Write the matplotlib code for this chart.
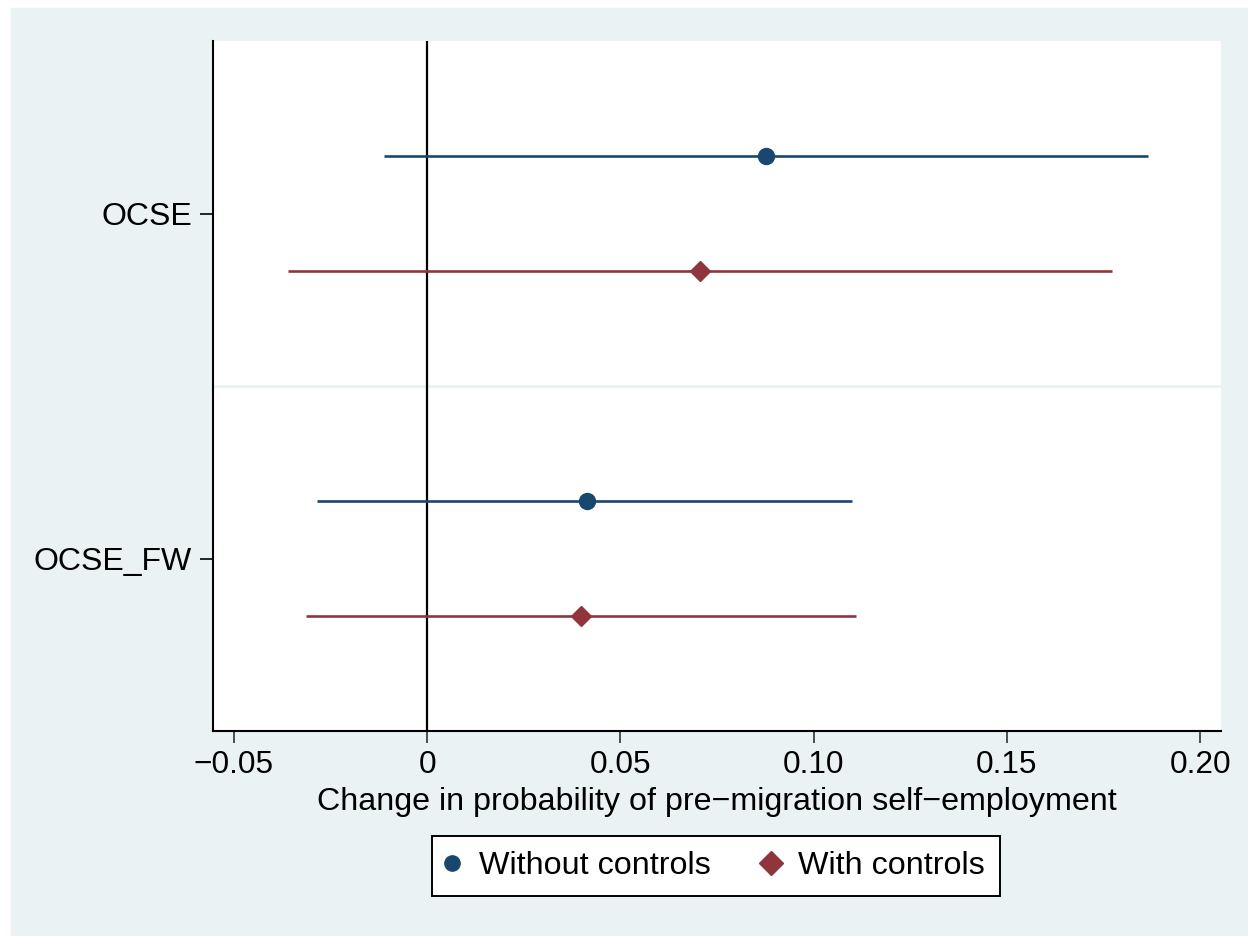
import matplotlib
matplotlib.use("Agg")
import matplotlib.pyplot as plt
from matplotlib.patches import Rectangle
from matplotlib.lines import Line2D

# coefficient estimates and 95% intervals
categories = ["OCSE", "OCSE_FW"]
series_names = ["Without controls", "With controls"]
coef = {
    "Without controls": [0.0876, 0.0413],
    "With controls": [0.0707, 0.0398],
}
ci_low = {
    "Without controls": [-0.0112, -0.0284],
    "With controls": [-0.0361, -0.0313],
}
ci_high = {
    "Without controls": [0.1865, 0.1099],
    "With controls": [0.1772, 0.1109],
}
xticks = [-0.05, 0, 0.05, 0.10, 0.15, 0.20]
xtick_labels = ["\u22120.05", "0", "0.05", "0.10", "0.15", "0.20"]
xlabel = "Change in probability of pre\u2212migration self\u2212employment"

BG = "#EAF2F3"
colors = {"Without controls": "#1A476F", "With controls": "#90353B"}
markers = {"Without controls": "o", "With controls": "D"}
msizes = {"Without controls": 11.5, "With controls": 10}
offsets = {"Without controls": -0.167, "With controls": 0.167}

plt.rcParams["font.family"] = ["Liberation Sans", "DejaVu Sans"]

fig = plt.figure(figsize=(12.48, 9.36), dpi=100, facecolor="white")
fig.patches.append(Rectangle((11 / 1248, 0), 1, 1 - 8 / 936,
                             transform=fig.transFigure, color=BG, zorder=-10))

ax = fig.add_axes([213 / 1248, 1 - 731 / 936, (1221 - 213) / 1248, (731 - 41) / 936])
ax.set_facecolor("white")

ypos = list(range(1, len(categories) + 1))

# light separator between groups
for i in range(len(categories) - 1):
    ax.axhline(ypos[i] + 0.5, color=BG, lw=2, zorder=1)

ax.axvline(0, color="black", lw=1.6, zorder=2)

for name in series_names:
    ys = [y + offsets[name] for y in ypos]
    ax.hlines(ys, ci_low[name], ci_high[name], color=colors[name], lw=1.9, zorder=3)
    ax.plot(coef[name], ys, linestyle="none", marker=markers[name],
            ms=msizes[name], color=colors[name], mec=colors[name], zorder=4)

ax.set_ylim(2.5, 0.5)
ax.set_xlim(-0.0554, 0.2054)
ax.set_yticks(ypos)
ax.set_yticklabels(categories)
ax.set_xticks(xticks)
ax.set_xticklabels(xtick_labels)
ax.set_xlabel(xlabel, fontsize=23.2, labelpad=5)

for side in ["top", "right"]:
    ax.spines[side].set_visible(False)
for side in ["left", "bottom"]:
    ax.spines[side].set_linewidth(1.5)
    ax.spines[side].set_color("black")

ax.tick_params(axis="y", length=9.5, width=1.2, pad=5.5, labelsize=23, colors="black")
ax.tick_params(axis="x", length=8.8, width=1.2, pad=5, labelsize=22.8, colors="black")
ax.tick_params(axis="x", color="#333333")

leg_sizes = {"Without controls": 11, "With controls": 12}
handles = [Line2D([], [], linestyle="none", marker=markers[n], ms=leg_sizes[n],
                  color=colors[n]) for n in series_names]
leg = fig.legend(handles, series_names, loc="center",
                 bbox_to_anchor=(716 / 1248, 1 - 866 / 936), ncol=2,
                 fontsize=23.2, frameon=True, fancybox=False, framealpha=1,
                 edgecolor="black", handlelength=0.3, handletextpad=0.7,
                 columnspacing=1.7, borderpad=0.48, borderaxespad=0)
leg.get_frame().set_linewidth(1.4)

fig.savefig("out.png", dpi=100, facecolor="white")
